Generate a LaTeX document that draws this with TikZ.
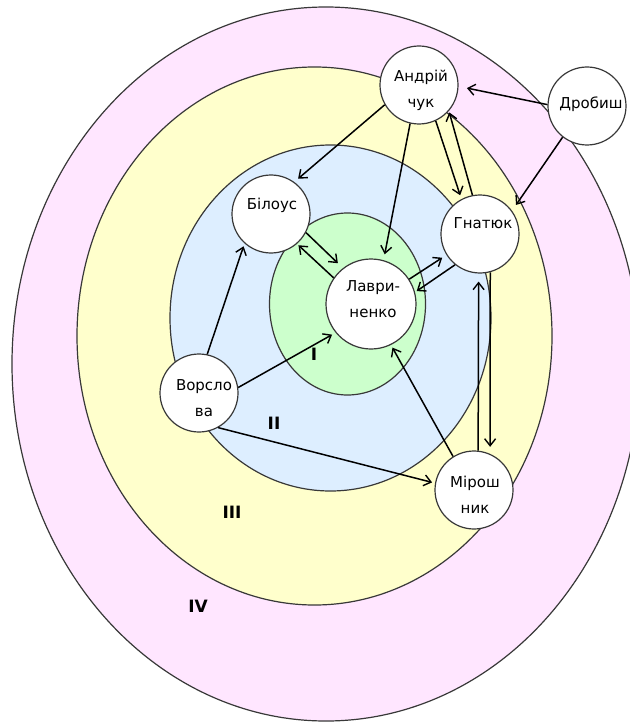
\documentclass[tikz,border=0pt]{standalone}
\usepackage{fontspec}
\setmainfont{DejaVu Sans}
\usetikzlibrary{arrows.meta}
\definecolor{zoneIV}{HTML}{FFE6FF}
\definecolor{zoneIII}{HTML}{FFFFCC}
\definecolor{zoneII}{HTML}{DDEEFF}
\definecolor{zoneI}{HTML}{CCFFCC}
\definecolor{edge}{HTML}{383838}
\begin{document}
\begin{tikzpicture}[x=1pt,y=-1pt,
  ring/.style={draw=edge, line width=1.2pt},
  person/.style={circle, draw=edge, fill=white, line width=1.2pt, inner sep=0pt, minimum size=78pt},
  bigperson/.style={person, minimum size=90pt},
  ptext/.style={font=\fontsize{15}{26}\selectfont, align=center, inner sep=0pt},
  zone/.style={font=\fontsize{17}{20}\selectfont\bfseries, inner sep=0pt},
  arr/.style={-{Straight Barb[length=7pt,width=11pt,line width=1.4pt]}, line width=1.5pt, black}
]
\useasboundingbox (0,0) rectangle (629,722);
% zones
\path[ring, fill=zoneIV] (326,364) ellipse [x radius=314pt, y radius=357pt];
\path[ring, fill=zoneIII] (314.5,336) ellipse [x radius=237.5pt, y radius=269pt];
\path[ring, fill=zoneII] (330.5,318) ellipse [x radius=160.5pt, y radius=173pt];
\path[ring, fill=zoneI] (347.5,304) ellipse [x radius=78pt, y radius=91pt];
% zone labels
\node[zone] (zI) at (314,354) {I};
\node[zone] (zII) at (274,423) {II};
\node[zone] (zIII) at (232,512) {III};
\node[zone] (zIV) at (198,606) {IV};
% persons
\node[person] (A) at (419,85) {};
\node[person] (D) at (587,106) {};
\node[person] (B) at (271,214) {};
\node[person] (H) at (480,234) {};
\node[bigperson] (L) at (371,304) {};
\node[person] (V) at (199,393) {};
\node[person] (M) at (474,490) {};
\node[ptext] (tA) at (421,90) {Андрій\\чук};
\node[ptext] (tD) at (591,104) {Дробиш};
\node[ptext] (tB) at (272,205) {Білоус};
\node[ptext] (tH) at (483,223) {Гнатюк};
\node[ptext] (tL) at (373,299.5) {Лаври-\\ненко};
\node[ptext] (tV) at (204,398.5) {Ворсло\\ва};
\node[ptext] (tM) at (475,495) {Мірош\\ник};
% connectors
\draw[arr, shorten >=8.5pt] (D.178) -- (A.-2);
\draw[arr, shorten >=7pt] (D.-128) -- (H.36);
\draw[arr, shorten >=5pt] (A.-150) -- (B.54);
\draw[arr, shorten >=6pt] (A.-103) -- (L.74);
\draw[arr, shorten >=4pt] (A.-65) -- (H.118);
\draw[arr, shorten >=1.5pt] (H.101) -- (A.-41);
\draw[arr, shorten >=7pt] (B.-28) -- (L.128);
\draw[arr, shorten >=2pt] (L.145) -- (B.-49);
\draw[arr, shorten >=5pt] (L.33) -- (H.-148);
\draw[arr, shorten >=2pt] (H.-129) -- (L.15);
\draw[arr, shorten >=3pt] (V.78) -- (B.-132);
\draw[arr, shorten >=4pt] (V.8) -- (L.-141);
\draw[arr, shorten >=3pt] (V.-61) -- (M.170);
\draw[arr, shorten >=3pt] (M.122) -- (L.-64);
\draw[arr, shorten >=8pt] (M.84) -- (H.-92);
\draw[arr, shorten >=7pt] (H.-75) -- (M.66);
\end{tikzpicture}
\end{document}
